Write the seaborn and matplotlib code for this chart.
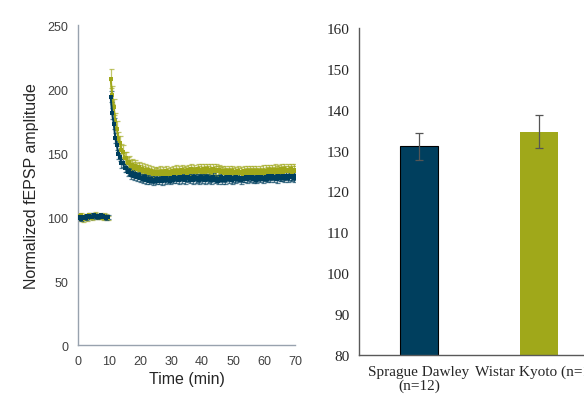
import numpy as np
import pandas as pd
import matplotlib
matplotlib.use('Agg')
import matplotlib.pyplot as plt
import seaborn as sns

# colours of the two strains
sd_color = '#003F5E'
wk_color = '#A0A81A'

# ---- time course (0.5 min sampling) ----
t_base = np.arange(0, 10, 0.5)
t_post = np.arange(10.5, 70.5, 0.5)

sd_base = [99.5, 100.2, 98.8, 99.6, 100.4, 99.1, 100.8, 101.2, 99.7, 100.3,
           101.5, 100.6, 99.9, 101.0, 100.4, 101.3, 100.8, 100.2, 99.6, 100.1]
wk_base = [100.8, 99.2, 101.4, 98.6, 99.9, 100.7, 98.9, 101.6, 100.2, 99.4,
           100.9, 101.8, 100.3, 99.7, 101.2, 100.5, 99.6, 101.1, 100.4, 99.3]
sd_base_err = [1.6, 1.4, 1.8, 1.5, 1.3, 1.7, 1.5, 1.6, 1.4, 1.8,
               1.5, 1.6, 1.3, 1.7, 1.5, 1.4, 1.6, 1.5, 1.7, 1.4]
wk_base_err = [1.8, 2.0, 1.7, 2.2, 1.9, 1.6, 2.1, 1.8, 2.0, 1.7,
               1.9, 2.1, 1.8, 1.6, 2.0, 1.9, 1.7, 2.0, 1.8, 1.9]

sd_post = [194, 181, 173, 162, 156, 149, 147, 142, 142, 138,
           138.5, 135, 136, 133, 134.5, 132, 133.5, 131, 132.5, 130.2,
           130.8, 129.6, 131.2, 128.9, 130.1, 128.2, 129.5, 127.9, 129.3, 128.4,
           130.0, 128.3, 129.7, 127.8, 130.2, 128.9, 130.6, 129.1, 128.5, 130.4,
           129.2, 131.0, 129.5, 130.8, 128.7, 130.9, 129.4, 131.3, 129.0, 130.5,
           131.1, 129.3, 130.7, 128.9, 131.2, 129.6, 130.4, 128.8, 130.9, 129.7,
           130.6, 128.9, 131.0, 129.4, 130.3, 128.6, 131.4, 129.2, 130.1, 128.5,
           129.8, 131.2, 128.8, 130.5, 129.1, 130.9, 129.5, 131.3, 129.0, 130.6,
           129.4, 131.0, 129.7, 130.8, 128.9, 130.5, 129.8, 131.4, 129.6, 130.9,
           130.2, 131.5, 129.8, 130.6, 129.3, 131.2, 130.0, 131.6, 129.5, 130.8,
           131.4, 129.9, 131.8, 130.5, 132.0, 130.3, 131.6, 129.8, 131.9, 130.7,
           131.2, 132.1, 130.4, 131.8, 130.6, 132.3, 130.9, 131.7, 130.5, 131.9]
wk_post = [208, 195, 186, 175, 169, 161, 158, 152, 151, 146,
           146, 142.5, 143, 140, 141, 138.5, 139.8, 137.6, 138.9, 136.5,
           137.8, 135.9, 137.0, 134.8, 136.4, 134.2, 135.8, 133.6, 135.2, 133.9,
           135.0, 133.4, 135.3, 133.8, 134.9, 133.2, 135.6, 134.0, 135.1, 133.7,
           135.9, 134.2, 136.3, 134.6, 135.8, 134.1, 136.7, 134.9, 136.0, 134.5,
           136.8, 135.0, 137.2, 135.3, 136.5, 134.9, 137.4, 135.6, 136.9, 135.2,
           137.3, 135.5, 137.8, 135.9, 137.1, 135.4, 137.6, 135.8, 137.0, 135.6,
           136.4, 134.8, 136.2, 134.5, 135.9, 134.1, 136.0, 134.3, 135.7, 134.4,
           135.5, 133.9, 135.8, 134.2, 135.3, 133.8, 135.6, 134.0, 135.9, 134.3,
           135.6, 134.1, 135.9, 134.4, 136.0, 134.2, 135.7, 134.6, 136.2, 134.5,
           136.3, 134.8, 136.7, 135.1, 136.5, 134.9, 137.0, 135.3, 136.6, 135.2,
           137.2, 135.4, 137.5, 135.8, 137.1, 135.6, 137.4, 135.5, 136.9, 135.9]
sd_post_err = [4.5, 4.2, 4.0, 3.8, 3.6, 3.5, 3.4, 3.3, 3.2, 3.2,
               3.1, 3.0, 3.1, 2.9, 3.0, 2.9, 3.0, 2.8, 2.9, 2.9,
               2.8, 2.9, 2.7, 2.8, 2.9, 2.7, 2.8, 2.9, 2.7, 2.8,
               2.9, 2.8, 2.7, 2.9, 2.8, 2.7, 2.9, 2.8, 3.0, 2.8,
               2.7, 2.9, 2.8, 3.0, 2.7, 2.9, 2.8, 2.7, 2.9, 2.8,
               3.0, 2.8, 2.7, 2.9, 2.8, 3.1, 2.9, 2.8, 2.7, 2.9,
               2.8, 3.0, 2.9, 2.7, 2.8, 3.1, 2.9, 2.8, 3.0, 2.9,
               2.8, 2.7, 2.9, 2.8, 3.0, 2.9, 2.7, 2.8, 2.9, 3.0,
               2.8, 2.9, 2.7, 2.8, 3.0, 2.9, 2.8, 2.7, 2.9, 2.8,
               2.9, 2.8, 3.0, 2.9, 2.7, 2.8, 2.9, 3.0, 2.8, 2.9,
               3.0, 2.8, 2.9, 3.1, 2.9, 2.8, 3.0, 2.9, 3.1, 2.9,
               3.0, 2.9, 3.1, 3.0, 2.9, 3.1, 3.0, 2.9, 3.1, 3.0]
wk_post_err = [7.5, 7.0, 6.6, 6.2, 5.8, 5.5, 5.2, 5.0, 4.9, 4.8,
               4.7, 4.6, 4.7, 4.5, 4.6, 4.4, 4.5, 4.3, 4.4, 4.3,
               4.2, 4.3, 4.1, 4.2, 4.3, 4.1, 4.2, 4.0, 4.1, 4.2,
               4.1, 4.0, 4.2, 4.1, 3.9, 4.1, 4.2, 4.0, 4.1, 4.2,
               4.0, 4.1, 4.2, 4.0, 4.1, 3.9, 4.2, 4.1, 4.0, 4.1,
               4.2, 4.0, 4.1, 3.9, 4.1, 4.2, 4.0, 4.1, 4.2, 4.0,
               4.1, 4.2, 4.0, 4.1, 4.2, 4.0, 4.1, 3.9, 4.1, 4.2,
               4.0, 4.1, 3.9, 4.0, 4.1, 3.9, 4.0, 4.1, 3.9, 4.0,
               3.9, 4.0, 3.8, 3.9, 4.0, 3.8, 3.9, 4.0, 3.8, 3.9,
               4.0, 3.9, 3.8, 4.0, 3.9, 3.8, 4.0, 3.9, 4.1, 3.9,
               4.0, 4.1, 3.9, 4.0, 4.2, 4.0, 4.1, 4.2, 4.0, 4.1,
               4.2, 4.1, 4.3, 4.1, 4.2, 4.3, 4.1, 4.2, 4.3, 4.2]

# ---- summary bars ----
strains = ['Sprague Dawley\n(n=12)', 'Wistar Kyoto (n=12)']
bar_means = [131.0, 134.6]
bar_sems = [3.4, 4.0]

# long table for seaborn
rows = []
for strain, base, post in [('SD', sd_base, sd_post), ('WK', wk_base, wk_post)]:
    for t, v in zip(t_base, base):
        rows.append((t, v, strain, 'base'))
    for t, v in zip(t_post, post):
        rows.append((t, v, strain, 'post'))
df = pd.DataFrame(rows, columns=['time', 'fepsp', 'strain', 'phase'])

sns.set_style('white')
fig = plt.figure(figsize=(5.84, 4.10), dpi=100)
ax1 = fig.add_axes([0.1336, 0.156, 0.372, 0.7805])
ax2 = fig.add_axes([0.6147, 0.1317, 0.411, 0.798])

# left panel: time course
for strain, col, tb, mb, eb, tp, mp, ep in [
        ('WK', wk_color, t_base, wk_base, wk_base_err, t_post, wk_post, wk_post_err),
        ('SD', sd_color, t_base, sd_base, sd_base_err, t_post, sd_post, sd_post_err)]:
    for tt, mm, ee in [(tb, mb, eb), (tp, mp, ep)]:
        ax1.errorbar(tt, mm, yerr=ee, fmt='none', ecolor=col, elinewidth=0.9,
                     capsize=1.8, capthick=0.9, alpha=0.65, zorder=2)
    sub = df[df['strain'] == strain]
    sns.lineplot(data=sub, x='time', y='fepsp', units='phase', estimator=None,
                 color=col, lw=1.4, marker='s', markersize=2.4,
                 markeredgewidth=0, ax=ax1, zorder=3)

ax1.set_xlim(0, 70)
ax1.set_ylim(0, 250)
ax1.set_xticks(range(0, 71, 10))
ax1.set_yticks(range(0, 251, 50))
spine_c = '#98A2AE'
for s in ['top', 'right']:
    ax1.spines[s].set_visible(False)
for s in ['left', 'bottom']:
    ax1.spines[s].set_color(spine_c)
    ax1.spines[s].set_linewidth(1.0)
ax1.tick_params(axis='both', direction='out', length=4, width=0.9, color=spine_c,
                labelsize=9, labelcolor='#404040', pad=3)
for lab in ax1.get_xticklabels() + ax1.get_yticklabels():
    lab.set_family('Liberation Sans')
ax1.set_xlabel('Time (min)', fontsize=11.5, family='Liberation Sans', labelpad=3)
ax1.set_ylabel('Normalized fEPSP amplitude', fontsize=11.5, family='Liberation Sans', labelpad=6)

# right panel: bars
bdf = pd.DataFrame({'strain': strains, 'ltp': bar_means})
sns.barplot(data=bdf, x='strain', y='ltp', hue='strain', saturation=1,
            palette=[sd_color, wk_color], width=0.32, legend=False, ax=ax2)
ax2.patches[0].set_edgecolor('black')
ax2.patches[0].set_linewidth(0.8)
ax2.patches[1].set_linewidth(0)
ax2.errorbar(range(len(strains)), bar_means, yerr=bar_sems, fmt='none',
             ecolor='#555555', elinewidth=0.9, capsize=3, capthick=0.9, zorder=4)
ax2.set_ylim(80, 160)
ax2.set_xlim(-0.5, 1.5)
ax2.set_yticks(range(80, 161, 10))
ax2.set_xticks([-0.5, 0.5, 1.5])
ax2.set_xticklabels([])
ax2.set_xticks([0, 1], minor=True)
ax2.set_xticklabels(strains, minor=True, family='Liberation Serif', fontsize=11,
                    color='#262626', linespacing=1.1)
ax2.tick_params(axis='x', which='minor', length=0, pad=7)
ax2.tick_params(axis='x', which='major', direction='out', length=4, width=0.9, color='#595959')
ax2.tick_params(axis='y', direction='out', length=4, width=0.9, color='#595959',
                labelsize=11, labelcolor='#262626', pad=3)
for lab in ax2.get_yticklabels():
    lab.set_family('Liberation Serif')
ax2.set_xlabel('')
ax2.set_ylabel('')
for s in ['top', 'right']:
    ax2.spines[s].set_visible(False)
for s in ['left', 'bottom']:
    ax2.spines[s].set_color('#595959')
    ax2.spines[s].set_linewidth(1.0)

fig.savefig('out.png', dpi=100)
